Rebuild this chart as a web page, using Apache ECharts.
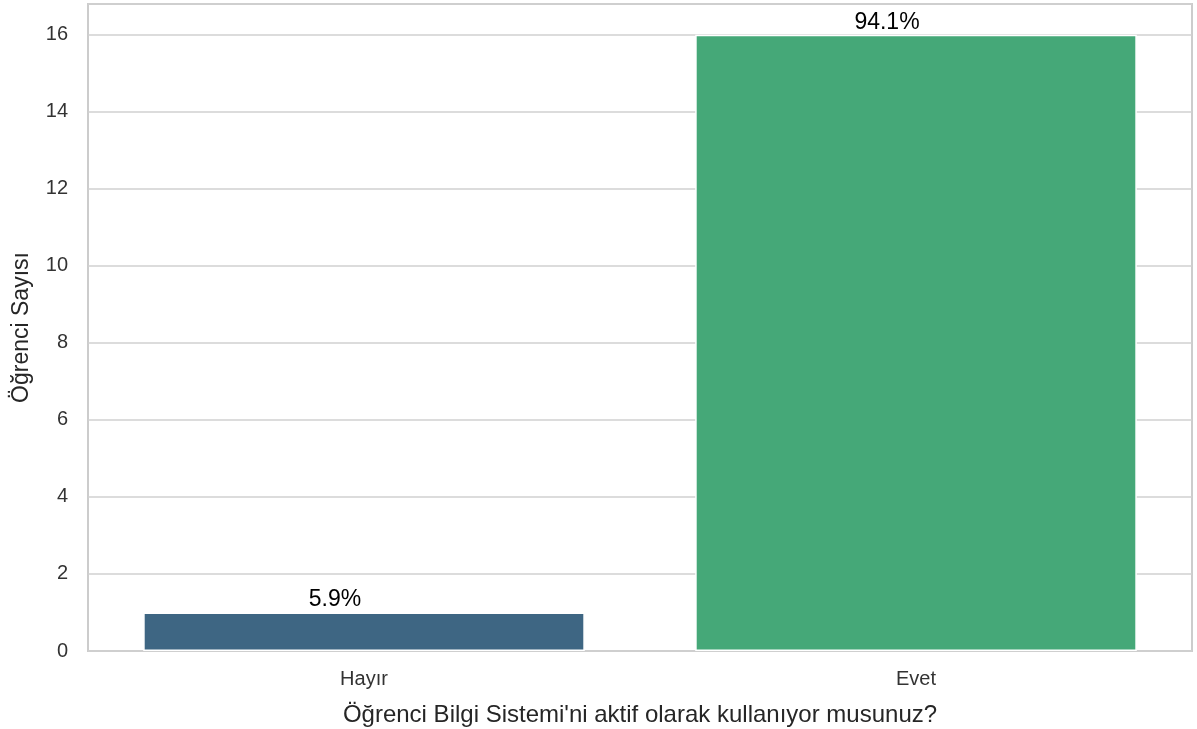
<!DOCTYPE html>
<html><head><meta charset="utf-8">
<script src="https://cdn.jsdelivr.net/npm/echarts@6/dist/echarts.min.js"></script>
<style>html,body{margin:0;padding:0;background:#fff}#c{width:1197px;height:729px}</style>
</head><body><div id="c"></div>
<script>
const categories = ["Hayır", "Evet"];
const counts = [1, 16];
const percentLabels = ["5.9%", "94.1%"];
const barColors = ["#3e6683", "#45a878"];
const yTicks = [0, 2, 4, 6, 8, 10, 12, 14, 16];

const chart = echarts.init(document.getElementById('c'), null, {renderer: 'canvas'});
const font = 'Arial, "Liberation Sans", sans-serif';
chart.setOption({
  animation: false,
  backgroundColor: '#fff',
  grid: {left: 88, right: 5, top: 4, bottom: 78, outerBoundsMode: 'none', containLabel: false, show: true, borderColor: '#cccccc', borderWidth: 2, backgroundColor: 'transparent'},
  xAxis: {
    type: 'category', data: categories,
    name: "Öğrenci Bilgi Sistemi'ni aktif olarak kullanıyor musunuz?",
    nameLocation: 'middle', nameGap: 52,
    nameTextStyle: {fontFamily: font, fontSize: 24, color: '#262626'},
    axisLine: {show: false}, axisTick: {show: false},
    axisLabel: {fontFamily: font, fontSize: 20, color: '#333333', margin: 18}
  },
  yAxis: {
    type: 'value', min: 0, max: 16.8, interval: 2,
    name: 'Öğrenci Sayısı', nameLocation: 'middle', nameGap: 55,
    nameTextStyle: {fontFamily: font, fontSize: 23, color: '#262626'},
    axisLine: {show: false}, axisTick: {show: false},
    axisLabel: {fontFamily: font, fontSize: 20, color: '#333333', margin: 20,
      formatter: v => yTicks.includes(v) ? String(v) : ''},
    splitLine: {lineStyle: {color: '#d0d0d0', width: 1.5}}
  },
  series: [{
    type: 'bar', barCategoryGap: '20%',
    data: counts.map((v, i) => ({value: v, itemStyle: {color: barColors[i]}})),
    itemStyle: {borderColor: '#ffffff', borderWidth: 1.5},
    label: {show: true, position: 'top', distance: 1, offset: [-29, 0], fontFamily: font, fontSize: 23, color: '#000',
      formatter: p => percentLabels[p.dataIndex]}
  }]
});
</script></body></html>
